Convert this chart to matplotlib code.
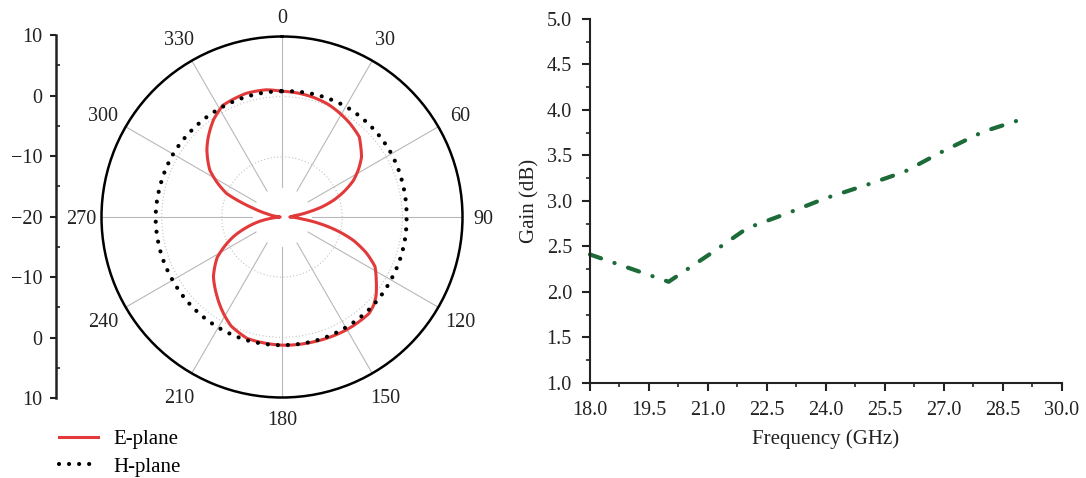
import numpy as np
import matplotlib.pyplot as plt

plt.rcParams['font.family'] = ['Liberation Serif', 'DejaVu Serif']
plt.rcParams['axes.unicode_minus'] = True

# radiation pattern: azimuth (deg) and gain (dB)
e_theta = [0, 8, 15, 22, 27, 35, 44, 48, 53, 58, 63, 68, 72, 76, 79, 84, 90, 96,
           100, 104, 108, 113, 118, 124, 130, 134, 138, 150, 166, 180, 196, 205,
           211, 220, 229, 238, 248, 253, 259, 264, 270, 276, 282, 287, 290, 293,
           298, 303, 312, 317, 325, 332, 344, 353, 360]
e_gain = [0.9, 0.75, 0.55, 0.25, -0.1, -0.7, -1.5, -2.4, -3.45, -5.0, -6.7, -9.0,
          -11.0, -13.3, -15.3, -18.0, -18.7, -16.5, -13.6, -10.5, -7.6, -4.8, -2.5,
          -1.1, 0.4, 1.15, 1.6, 1.6, 1.4, 1.3, 1.0, 0.0, -1.2, -3.1, -4.9, -7.3,
          -11.3, -13.6, -16.2, -18.6, -19.7, -19.0, -17.5, -15.0, -12.6, -10.0,
          -7.8, -5.7, -3.2, -2.0, -0.2, 1.0, 1.4, 1.3, 0.9]

h_theta = [0, 15, 30, 45, 60, 75, 90, 105, 120, 135, 150, 165, 180,
           195, 210, 225, 240, 255, 270, 285, 300, 315, 330, 345, 360]
h_gain = [0.9, 1.1, 1.2, 1.1, 1.0, 0.8, 0.7, 0.8, 0.9, 1.1, 1.2, 1.3, 1.3,
          1.3, 1.2, 1.1, 1.0, 1.0, 1.0, 0.9, 0.9, 0.8, 0.8, 0.85, 0.9]

# gain against frequency
freq = [18, 19, 20, 21, 22, 23, 24, 25, 26, 27, 28, 29]
gain = [2.41, 2.26, 2.11, 2.40, 2.70, 2.86, 3.03, 3.17, 3.32, 3.55, 3.76, 3.90]

angle_ticks = [0, 30, 60, 90, 120, 150, 180, 210, 240, 270, 300, 330]
scale_ticks = [-30, -20, -10, 0, 10, 20, 30]
scale_labels = ['10', '0', '\u221210', '\u221220', '\u221210', '0', '10']
freq_ticks = [18.0, 19.5, 21.0, 22.5, 24.0, 25.5, 27.0, 28.5, 30.0]
gain_ticks = [1.0, 1.5, 2.0, 2.5, 3.0, 3.5, 4.0, 4.5, 5.0]

E_COL = '#e23a3a'
G_COL = '#1c6b38'
SPINE = '#222222'
FS = 14.5

W, H = 1086, 478
R_PX = 180.5          # polar radius in pixels
R_MIN, R_MAX = -20, 10
fig = plt.figure(figsize=(W / 100, H / 100), dpi=100)


def box(left, top, right, bottom):
    return [left / W, 1 - bottom / H, (right - left) / W, (bottom - top) / H]


# polar pattern
ax = fig.add_axes(box(101.5, 36.5, 462.5, 397.5), projection='polar')
ax.set_theta_zero_location('N')
ax.set_theta_direction(-1)
ax.set_ylim(R_MIN, R_MAX)
ax.set_yticks([-10, 0])
ax.set_yticklabels([])
ax.yaxis.grid(True, color='#c4c4c4', ls=(0, (1, 2)), lw=0.8)
ax.xaxis.grid(False)
ax.set_xticks(np.deg2rad(angle_ticks))
ax.set_xticklabels([])
ax.set_xticks(np.deg2rad(np.arange(0, 360, 15)), minor=True)
ax.tick_params(axis='x', which='major', direction='in', length=7, width=1.5,
               colors=SPINE)
ax.tick_params(axis='x', which='minor', direction='in', length=4, width=1.2,
               colors=SPINE)
ax.tick_params(axis='y', length=0)
ax.spines['polar'].set_linewidth(1.8)
ax.spines['polar'].set_color('black')

# angle labels sit a little further out on the diagonals
px_per_db = R_PX / (R_MAX - R_MIN)
for a in angle_ticks:
    t = np.deg2rad(a)
    r_lab = 201 + 6 * abs(np.sin(2 * t))
    ax.text(t, R_MIN + r_lab / px_per_db, str(a), ha='center',
            va='center_baseline', fontsize=FS, color=SPINE, clip_on=False)
    ax.plot([t, t], [-15, R_MAX], color='#b8b8b8', lw=0.8, zorder=1)

e_line, = ax.plot(np.deg2rad(e_theta), e_gain, color=E_COL, lw=2.2, zorder=3,
                  label='E-plane')
h_line, = ax.plot(np.deg2rad(h_theta), h_gain, color='black', lw=3,
                  ls=(0, (0.01, 2.4)), dash_capstyle='round', zorder=4,
                  label='H-plane')
# draw segments as arcs/spirals in polar space rather than straight chords
for ln in (e_line, h_line):
    ln.get_path()._interpolation_steps = 24

# dB scale beside the polar plot
axl = fig.add_axes(box(56, 35, 56.5, 398.3))
axl.set_ylim(-30, 30)
axl.set_xticks([])
for s in ['top', 'right', 'bottom']:
    axl.spines[s].set_visible(False)
axl.spines['left'].set_linewidth(1.8)
axl.spines['left'].set_color(SPINE)
axl.set_yticks(scale_ticks)
axl.set_yticklabels(scale_labels)
axl.set_yticks(np.arange(-25, 30, 10), minor=True)
axl.tick_params(axis='y', which='major', direction='out', length=4, width=1.5,
                pad=6, labelsize=FS, colors=SPINE)
axl.tick_params(axis='y', which='minor', direction='in', length=3, width=1.2,
                colors=SPINE)
axl.patch.set_visible(False)

fig.legend(handles=[e_line, h_line], loc='center left',
           bbox_to_anchor=(59 / W, 1 - 453 / H), frameon=False, fontsize=15,
           handlelength=1.87, handletextpad=0.72, labelspacing=0.38,
           borderpad=0, borderaxespad=0)

# gain vs frequency
ax2 = fig.add_axes(box(590, 19, 1061.7, 382.7))
ax2.plot(freq, gain, color=G_COL, lw=3, ls=(0, (2.8, 3.4, 0.05, 3.4)),
         dash_capstyle='round', clip_on=False)
ax2.set_xlim(18, 30)
ax2.set_ylim(1, 5)
ax2.set_xticks(freq_ticks)
ax2.set_xticklabels([f'{v:.1f}' for v in freq_ticks])
ax2.set_yticks(gain_ticks)
ax2.set_yticklabels([f'{v:.1f}' for v in gain_ticks])
ax2.set_xticks(np.arange(18.75, 30, 1.5), minor=True)
ax2.set_yticks(np.arange(1.25, 5, 0.5), minor=True)
for s in ['top', 'right']:
    ax2.spines[s].set_visible(False)
for s in ['left', 'bottom']:
    ax2.spines[s].set_linewidth(1.5)
    ax2.spines[s].set_color(SPINE)
ax2.tick_params(which='major', direction='out', length=6, width=1.5, pad=7,
                labelsize=FS, colors=SPINE)
ax2.tick_params(which='minor', direction='out', length=3, width=1.2,
                colors=SPINE)
ax2.set_xlabel('Frequency (GHz)', fontsize=15, color=SPINE, labelpad=7)
ax2.set_ylabel('Gain (dB)', fontsize=15, color=SPINE, labelpad=5)

fig.savefig('out.png', dpi=100)
